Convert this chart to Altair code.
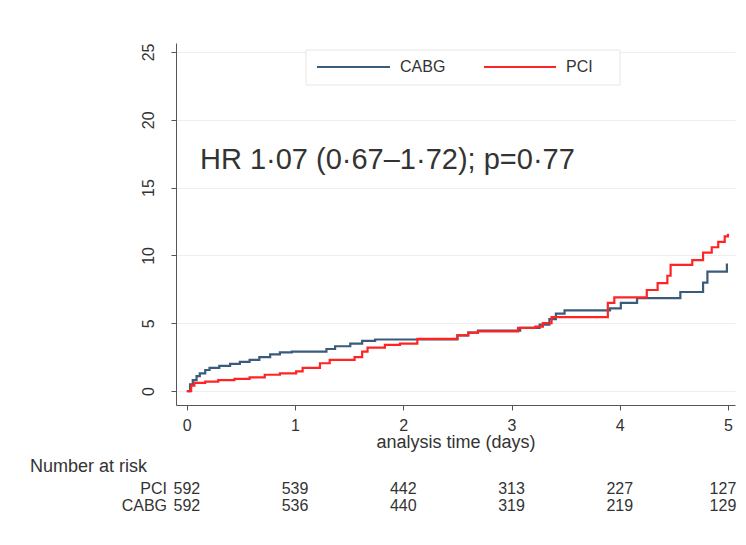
import altair as alt
import pandas as pd

# ---- data ----
cabg_t = [0, 0.03, 0.055, 0.09, 0.12, 0.17, 0.21, 0.30, 0.40, 0.49, 0.58, 0.67, 0.77, 0.86, 0.97,
          1.29, 1.37, 1.51, 1.62, 1.74, 2.50, 2.60, 2.69, 3.08, 3.26, 3.35, 3.41, 3.49, 3.91,
          4.01, 4.16, 4.56, 4.77, 4.81, 4.99]
cabg_v = [0, 0.5, 0.8, 1.1, 1.3, 1.55, 1.7, 1.85, 2.0, 2.15, 2.3, 2.5, 2.7, 2.85, 2.9,
          3.1, 3.3, 3.5, 3.7, 3.8, 4.1, 4.3, 4.45, 4.65, 4.9, 5.3, 5.7, 5.95, 6.1,
          6.5, 6.85, 7.3, 8.0, 8.8, 9.4]
pci_t = [0, 0.04, 0.07, 0.17, 0.29, 0.44, 0.58, 0.72, 0.86, 1.01, 1.07, 1.23, 1.32, 1.55, 1.62,
         1.67, 1.83, 1.97, 2.13, 2.50, 2.60, 2.69, 3.06, 3.22, 3.29, 3.37, 3.89, 3.95, 4.25,
         4.35, 4.44, 4.47, 4.67, 4.77, 4.85, 4.91, 4.97, 5.0]
pci_v = [0, 0.4, 0.6, 0.7, 0.8, 0.9, 1.0, 1.2, 1.3, 1.45, 1.7, 2.05, 2.3, 2.5, 2.9,
         3.2, 3.4, 3.5, 3.85, 4.1, 4.3, 4.4, 4.65, 4.75, 5.0, 5.45, 6.5, 6.9, 7.45,
         7.95, 8.5, 9.3, 9.65, 10.2, 10.6, 11.0, 11.4, 11.6]

risk_times = [0, 1, 2, 3, 4, 5]
risk_pci = [592, 539, 442, 313, 227, 127]
risk_cabg = [592, 536, 440, 319, 219, 129]
x_ticks = [0, 1, 2, 3, 4, 5]
y_ticks = [0, 5, 10, 15, 20, 25]
annotation = "HR 1\u00b707 (0\u00b767\u20131\u00b772); p=0\u00b777"

FONT = "Liberation Sans"
C_CABG = "#3b5b7b"
C_PCI = "#ff2424"
TXT = "#333333"
TFS = 16  # table font size
Y_PCI = 446
Y_CABG = 463

cabg_df = pd.DataFrame({"t": cabg_t, "v": cabg_v})
pci_df = pd.DataFrame({"t": pci_t, "v": pci_v})
risk_df = pd.DataFrame({"t": risk_times, "pci": risk_pci, "cabg": risk_cabg})
one = alt.Data(values=[{}])

xs = alt.Scale(domain=[-0.1, 5.065], nice=False, zero=False)
ys = alt.Scale(domain=[-1.03, 25.66], nice=False, zero=False)

x_axis = alt.Axis(values=x_ticks, format="d", title=None, grid=False, tickSize=5, labelPadding=7,
                  labelFontSize=16, labelFont=FONT, labelColor=TXT, domainColor="#555555",
                  tickColor="#555555", labelFlush=False)
y_axis = alt.Axis(values=y_ticks, format="d", title=None, grid=True, gridColor="#eeeeee", tickSize=5,
                  labelPadding=15, labelAngle=270, labelAlign="center", labelBaseline="bottom",
                  labelFontSize=16, labelFont=FONT, labelColor=TXT, domainColor="#555555",
                  tickColor="#555555")

base_axes = alt.Chart(cabg_df).mark_line(opacity=0).encode(
    x=alt.X("t:Q", scale=xs, axis=x_axis),
    y=alt.Y("v:Q", scale=ys, axis=y_axis),
)

cabg_line = alt.Chart(cabg_df).mark_line(interpolate="step-after", color=C_CABG, strokeWidth=2.2).encode(
    x=alt.X("t:Q", scale=xs), y=alt.Y("v:Q", scale=ys))
pci_line = alt.Chart(pci_df).mark_line(interpolate="step-after", color=C_PCI, strokeWidth=2.2).encode(
    x=alt.X("t:Q", scale=xs), y=alt.Y("v:Q", scale=ys))

# legend box
leg_box = alt.Chart(one).mark_rect(fill="white", stroke="#e6e6e6", strokeWidth=1).encode(
    x=alt.value(130), x2=alt.value(444), y=alt.value(7), y2=alt.value(42))
leg_l1 = alt.Chart(one).mark_rule(color=C_CABG, strokeWidth=2.2).encode(
    x=alt.value(141), x2=alt.value(214), y=alt.value(24))
leg_l2 = alt.Chart(one).mark_rule(color=C_PCI, strokeWidth=2.2).encode(
    x=alt.value(308), x2=alt.value(380), y=alt.value(24))
leg_t1 = alt.Chart(one).mark_text(text="CABG", align="left", baseline="middle", font=FONT,
                                  fontSize=16, color=TXT).encode(x=alt.value(224), y=alt.value(24))
leg_t2 = alt.Chart(one).mark_text(text="PCI", align="left", baseline="middle", font=FONT,
                                  fontSize=16, color=TXT).encode(x=alt.value(390), y=alt.value(24))

hr_text = alt.Chart(one).mark_text(text=annotation, align="left", baseline="middle", font=FONT,
                                   fontSize=29, color=TXT).encode(x=alt.value(24), y=alt.value(117))

x_title = alt.Chart(one).mark_text(text="analysis time (days)", align="center", baseline="middle",
                                   font=FONT, fontSize=18, color=TXT).encode(
    x=alt.value(280), y=alt.value(400))

nar = alt.Chart(one).mark_text(text="Number at risk", align="left", baseline="middle",
                               font=FONT, fontSize=18, color=TXT).encode(
    x=alt.value(-146), y=alt.value(424))
lab_pci = alt.Chart(one).mark_text(text="PCI", align="right", baseline="middle",
                                   font=FONT, fontSize=TFS, color=TXT).encode(
    x=alt.value(-9), y=alt.value(Y_PCI))
lab_cabg = alt.Chart(one).mark_text(text="CABG", align="right", baseline="middle",
                                    font=FONT, fontSize=TFS, color=TXT).encode(
    x=alt.value(-9), y=alt.value(Y_CABG))

risk_base = alt.Chart(risk_df)
row_pci = risk_base.transform_filter("datum.t < 5").mark_text(
    align="center", baseline="middle", font=FONT, fontSize=TFS, color=TXT).encode(
    x=alt.X("t:Q", scale=xs), y=alt.value(Y_PCI), text="pci:Q")
row_cabg = risk_base.transform_filter("datum.t < 5").mark_text(
    align="center", baseline="middle", font=FONT, fontSize=TFS, color=TXT).encode(
    x=alt.X("t:Q", scale=xs), y=alt.value(Y_CABG), text="cabg:Q")
# last column nudged left so it stays inside the canvas
row_pci_last = risk_base.transform_filter("datum.t >= 5").mark_text(
    align="center", baseline="middle", font=FONT, fontSize=TFS, color=TXT, dx=-5).encode(
    x=alt.X("t:Q", scale=xs), y=alt.value(Y_PCI), text="pci:Q")
row_cabg_last = risk_base.transform_filter("datum.t >= 5").mark_text(
    align="center", baseline="middle", font=FONT, fontSize=TFS, color=TXT, dx=-5).encode(
    x=alt.X("t:Q", scale=xs), y=alt.value(Y_CABG), text="cabg:Q")

chart = alt.layer(
    base_axes, cabg_line, pci_line, leg_box, leg_l1, leg_l2, leg_t1, leg_t2, hr_text,
    x_title, nar, lab_pci, lab_cabg, row_pci, row_cabg, row_pci_last, row_cabg_last
).properties(
    width=559, height=362,
    padding={"left": 168, "top": 35, "right": 3, "bottom": 132},
    autosize=alt.AutoSizeParams(type="none"),
    background="white",
).configure_view(stroke=None)

chart.save("out.html", embed_options={"renderer": "svg", "actions": False})
